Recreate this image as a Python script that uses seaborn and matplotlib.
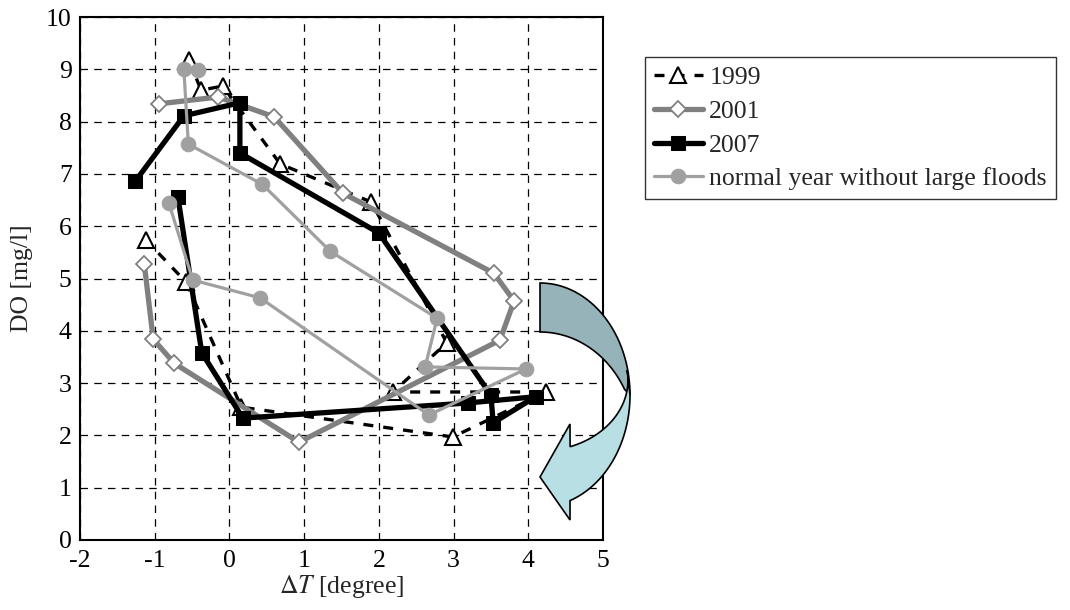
import numpy as np
import matplotlib
matplotlib.use('Agg')
import matplotlib.pyplot as plt
import seaborn as sns
from matplotlib.patches import Polygon

# data (delta T in degree, DO in mg/l)
dt_1999 = [-0.54, -0.38, -0.09, 0.68, 1.90, 2.91, 2.19, 4.24, 2.99, 0.16, -0.58, -1.12]
do_1999 = [9.18, 8.60, 8.68, 7.19, 6.46, 3.77, 2.83, 2.83, 1.97, 2.54, 4.93, 5.74]

dt_2001 = [-0.94, -0.15, 0.60, 1.52, 3.54, 3.81, 3.62, 0.93, -0.74, -1.02, -1.14]
do_2001 = [8.34, 8.47, 8.09, 6.63, 5.10, 4.57, 3.82, 1.87, 3.38, 3.84, 5.28]

dt_2007 = [-1.26, -0.61, 0.14, 0.14, 2.00, 3.50, 3.53, 4.10, 3.19, 0.18, -0.37, -0.69]
do_2007 = [6.86, 8.11, 8.36, 7.40, 5.87, 2.77, 2.24, 2.74, 2.62, 2.33, 3.58, 6.56]

dt_normal = [-0.42, -0.61, -0.55, 0.44, 1.35, 2.78, 2.62, 3.97, 2.67, 0.41, -0.49, -0.81]
do_normal = [8.99, 9.00, 7.57, 6.80, 5.52, 4.24, 3.31, 3.27, 2.39, 4.63, 4.97, 6.44]

labels = ['1999', '2001', '2007', 'normal year without large floods']
x_ticks = [-2, -1, 0, 1, 2, 3, 4, 5]
y_ticks = list(range(0, 11))

sns.set_style('white')
plt.rcParams['font.family'] = ['Liberation Serif', 'DejaVu Serif']
plt.rcParams['mathtext.fontset'] = 'stix'

W, H = 1070, 610
fs = 18.5
fig = plt.figure(figsize=(W / 100, H / 100), dpi=100)
ax = fig.add_axes([80 / W, 1 - 540 / H, 523 / W, 523 / H])

sns.lineplot(x=dt_1999, y=do_1999, sort=False, estimator=None, ax=ax,
             color='black', linewidth=2.4, linestyle=(0, (3, 3)),
             marker='^', markersize=12, markerfacecolor='white',
             markeredgecolor='black', markeredgewidth=1.5, label=labels[0], zorder=3)
sns.lineplot(x=dt_2001, y=do_2001, sort=False, estimator=None, ax=ax,
             color='#808080', linewidth=3.8,
             marker='D', markersize=8.5, markerfacecolor='white',
             markeredgecolor='#808080', markeredgewidth=1.3, label=labels[1], zorder=4)
sns.lineplot(x=dt_2007, y=do_2007, sort=False, estimator=None, ax=ax,
             color='black', linewidth=3.8,
             marker='s', markersize=10.5, markerfacecolor='black',
             markeredgecolor='black', label=labels[2], zorder=5)
sns.lineplot(x=dt_normal, y=do_normal, sort=False, estimator=None, ax=ax,
             color='#a0a0a0', linewidth=2.3,
             marker='o', markersize=10.5, markerfacecolor='#a0a0a0',
             markeredgecolor='#a0a0a0', label=labels[3], zorder=6)

ax.set_xlim(-2, 5)
ax.set_ylim(0, 10)
ax.set_xticks(x_ticks)
ax.set_yticks(y_ticks)
ax.set_xticklabels([str(v) for v in x_ticks])
ax.tick_params(labelsize=fs, direction='in', length=4, width=1, colors='black')
ax.tick_params(axis='x', pad=7)
ax.tick_params(axis='y', pad=6)
ax.grid(True, color='black', linestyle=(0, (6, 5)), linewidth=0.9)
for s in ax.spines.values():
    s.set_color('black')
    s.set_linewidth(1.5)
    s.set_zorder(10)
ax.set_xlabel(r'$\Delta T$ [degree]', fontsize=fs, labelpad=1)
ax.set_ylabel('DO [mg/l]', fontsize=fs, labelpad=9)

leg = ax.legend(loc='upper left', bbox_to_anchor=(645 / W, 1 - 57 / H),
                bbox_transform=fig.transFigure, borderaxespad=0, fontsize=fs,
                frameon=True, fancybox=False, handlelength=1.9, handletextpad=0.25,
                labelspacing=0.42, borderpad=0.35)
leg.get_frame().set_edgecolor('black')
leg.get_frame().set_linewidth(1.0)


# curved arrow decoration, built in figure pixels
def ell(cx, cy, rx, ry, a0, a1, n=40):
    t = np.radians(np.linspace(a0, a1, n))
    return np.column_stack([cx + rx * np.cos(t), cy - ry * np.sin(t)])


def to_fig(p):
    return np.column_stack([p[:, 0] / W, 1 - p[:, 1] / H])


outer_back = ell(540, 395, 90, 112, 90, 0)
inner_back = ell(540, 440, 95.7, 108, 28, 90)
back = np.vstack([outer_back, inner_back])
outer_front = ell(540, 395, 90, 112, 0, -70.5)
inner_front = ell(540, 380, 88, 71, -70, 8)
head = np.array([[570, 520], [540, 477], [570, 424]])
front = np.vstack([outer_front, head, inner_front])

fig.add_artist(Polygon(to_fig(back), closed=True, facecolor='#95b3b8',
                       edgecolor='black', linewidth=1.2, transform=fig.transFigure, zorder=20))
fig.add_artist(Polygon(to_fig(front), closed=True, facecolor='#b8dfe4',
                       edgecolor='black', linewidth=1.2, transform=fig.transFigure, zorder=21))

fig.savefig('out.png', dpi=100)
